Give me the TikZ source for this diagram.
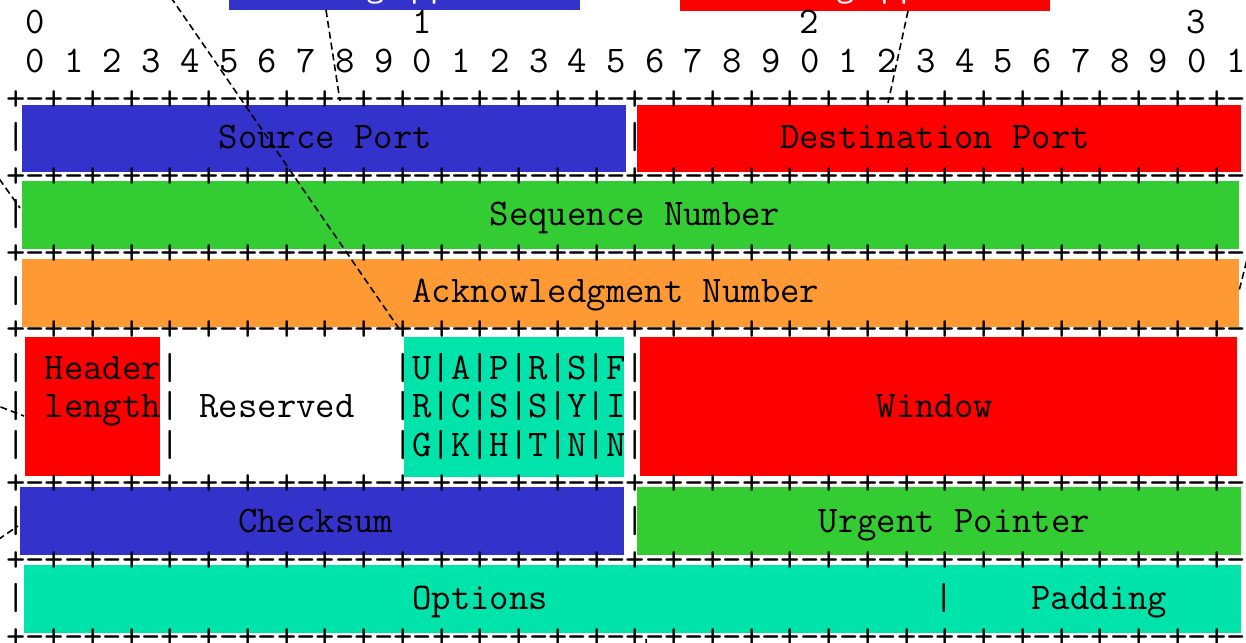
\documentclass[tikz,border=0pt]{standalone}
\usepackage{fontspec}
\newfontfamily\capfont{Open Sans}
\usetikzlibrary{fit}
\definecolor{fblue}{RGB}{51,51,204}
\definecolor{fred}{RGB}{255,0,0}
\definecolor{fgreen}{RGB}{51,204,51}
\definecolor{forange}{RGB}{255,153,51}
\definecolor{fteal}{RGB}{0,227,170}
\newcommand\ascfont{\ttfamily\fontsize{18.81}{20}\selectfont
  \fontdimen2\font=\fontcharwd\font`\0 \fontdimen3\font=0pt \fontdimen4\font=0pt \fontdimen7\font=0pt }
\tikzset{
  fld/.style={inner sep=0pt, outer sep=0pt, draw=none, fit={#1}},
  asc/.style={inner sep=0pt, outer sep=0pt, anchor=base west, font=\ascfont},
  conn/.style={dash pattern=on 3.5pt off 2pt, line width=0.8pt, draw=black},
  toplbl/.style={inner sep=0pt, anchor=base east, text=white, font={\capfont\fontsize{16}{18}\selectfont}},
}
\newcommand\At[3]{\node[asc] (t#1-#2) at ({6+19.35*#2},{33.75+38.4*#1}) {#3};}
\newcommand\plusline{+-+-+-+-+-+-+-+-+-+-+-+-+-+-+-+-+-+-+-+-+-+-+-+-+-+-+-+-+-+-+-+-+}
\begin{document}
\begin{tikzpicture}[x=0.5pt,y=-0.5pt]
\useasboundingbox (0,0) rectangle (1246,642);
\clip (0,0) rectangle (1246,642);
% top (cropped) label boxes
\node[fld={(229,-40) (580,10)}, fill=fblue] (topblue) {};
\node[fld={(680,-40) (1050,11)}, fill=fred] (topred) {};
\node[toplbl] (bluelbl) at (450,-3.5) {Sending app};
\node[toplbl] (redlbl) at (920,-3.5) {Receiving app};
% field boxes
\node[fld={(22,105) (626,172)}, fill=fblue] (src) {};
\node[fld={(637,105) (1241,172)}, fill=fred] (dst) {};
\node[fld={(22,181) (1239,249)}, fill=fgreen] (seq) {};
\node[fld={(22,259) (1239,327)}, fill=forange] (ack) {};
\node[fld={(25,337) (160,476)}, fill=fred] (hlen) {};
\node[fld={(404,337) (624,477)}, fill=fteal] (flags) {};
\node[fld={(640,337) (1237,476)}, fill=fred] (win) {};
\node[fld={(20,487) (624,555)}, fill=fblue] (chk) {};
\node[fld={(637,487) (1241,555)}, fill=fgreen] (urg) {};
\node[fld={(24,565) (1241,633)}, fill=fteal] (opt) {};
% ascii text
\At{0}{1}{0}\At{0}{21}{1}\At{0}{41}{2}\At{0}{61}{3}
\At{1}{1}{0 1 2 3 4 5 6 7 8 9 0 1 2 3 4 5 6 7 8 9 0 1 2 3 4 5 6 7 8 9 0 1}
\At{2}{0}{\plusline}
\At{3}{0}{|}\At{3}{11}{Source Port}\At{3}{32}{|}\At{3}{40}{Destination Port}
\At{4}{0}{\plusline}
\At{5}{0}{|}\At{5}{25}{Sequence Number}
\At{6}{0}{\plusline}
\At{7}{0}{|}\At{7}{21}{Acknowledgment Number}
\At{8}{0}{\plusline}
\At{9}{0}{|}\At{9}{2}{Header|}\At{9}{20}{|U|A|P|R|S|F|}
\At{10}{0}{|}\At{10}{2}{length|}\At{10}{10}{Reserved}\At{10}{20}{|R|C|S|S|Y|I|}\At{10}{45}{Window}
\At{11}{0}{|}\At{11}{8}{|}\At{11}{20}{|G|K|H|T|N|N|}
\At{12}{0}{\plusline}
\At{13}{0}{|}\At{13}{12}{Checksum}\At{13}{32}{|}\At{13}{42}{Urgent Pointer}
\At{14}{0}{\plusline}
\At{15}{0}{|}\At{15}{21}{Options}\At{15}{48}{|}\At{15}{53}{Padding}
\At{16}{0}{\plusline}
% connectors
\coordinate (c1a) at (152,-30); \coordinate (c1b) at (400,330);
\coordinate (c2a) at (326,10);  \coordinate (c2b) at (340,101);
\coordinate (c3a) at (908,11);  \coordinate (c3b) at (888,103);
\coordinate (c4a) at (-20,152); \coordinate (c4b) at (20,208);
\coordinate (c5a) at (1252,240);\coordinate (c5b) at (1239,291);
\coordinate (c6a) at (-20,399); \coordinate (c6b) at (24,416);
\coordinate (c7a) at (-20,552); \coordinate (c7b) at (18,526);
\coordinate (c8a) at (646,639); \coordinate (c8b) at (650,700);
\draw[conn] (c1a) -- (c1b);
\draw[conn] (c2a) -- (c2b);
\draw[conn] (c3a) -- (c3b);
\draw[conn] (c4a) -- (c4b);
\draw[conn] (c5a) -- (c5b);
\draw[conn] (c6a) -- (c6b);
\draw[conn] (c7a) -- (c7b);
\draw[conn] (c8a) -- (c8b);
\end{tikzpicture}
\end{document}
